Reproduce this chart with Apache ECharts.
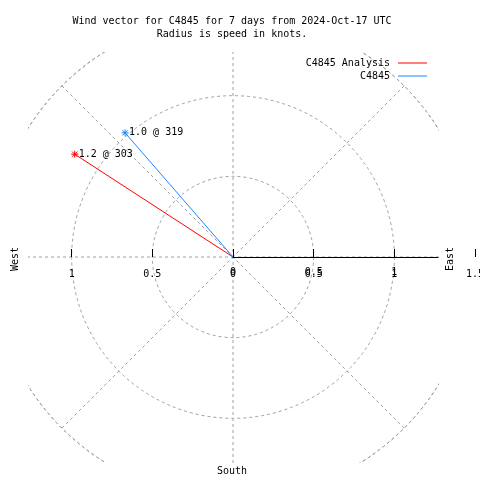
<!DOCTYPE html>
<html>
<head>
<meta charset="utf-8">
<script src="https://cdn.jsdelivr.net/npm/echarts@6/dist/echarts.min.js"></script>
<style>html,body{margin:0;padding:0;background:#fff}#c{width:480px;height:480px}</style>
</head>
<body>
<div id="c"></div>
<script>
// ---- data ----
const seriesNames = ['C4845 Analysis', 'C4845'];
const speeds = [1.17, 1.02];          // knots
const directions = [303, 319];        // degrees (compass)
const radiusTicks = [0, 0.5, 1, 1.5]; // radius axis ticks (knots)
const compassLabels = ['West', 'East', 'South'];

// ---- layout helpers ----
const FONT = 'DejaVu Sans Mono';
const CX = 233, CY = 257;          // polar centre (px)
const RMAX = radiusTicks[radiusTicks.length - 1];
const RPX = 242;                   // px for RMAX
const PXK = RPX / RMAX;            // px per knot
const HALF = 205;                  // half-size of clipped plot square (px)
const HALFK = HALF / PXK;
const colors = ['#ff0000', '#1a86ff'];
const gridStyle = { color: '#a0a0a0', width: 1, type: [3, 3] };
const star = 'path://M0,4L8,4M4,0L4,8M1,1L7,7M1,7L7,1';

const series = seriesNames.map((name, i) => ({
  name: name,
  type: 'line',
  coordinateSystem: 'polar',
  polarIndex: 0,
  z: 3,
  color: colors[i],
  lineStyle: { color: colors[i], width: 1 },
  itemStyle: { color: colors[i], borderColor: colors[i], borderWidth: 1 },
  symbol: star,
  symbolSize: 7,
  data: [
    { value: [0, directions[i]], symbol: 'none' },
    {
      value: [speeds[i], directions[i]],
      label: {
        show: true, position: 'right', distance: 0,
        fontFamily: FONT, fontSize: 10, color: '#000',
        formatter: () => speeds[i].toFixed(1) + ' @ ' + directions[i]
      }
    }
  ]
}));

const labelFont = { fontFamily: FONT, fontSize: 10, color: '#000' };

const option = {
  animation: false,
  backgroundColor: '#fff',
  title: {
    text: 'Wind vector for C4845 for 7 days from 2024-Oct-17 UTC\nRadius is speed in knots.',
    left: 227, top: 10, textAlign: 'center',
    textStyle: { fontFamily: FONT, fontSize: 10, fontWeight: 'normal', color: '#000', lineHeight: 13 }
  },
  legend: {
    data: seriesNames.map(n => ({ name: n, icon: 'rect' })),
    orient: 'vertical', align: 'right',
    right: 53, top: 57, padding: 0, itemGap: 1,
    itemWidth: 29, itemHeight: 1,
    itemStyle: { borderWidth: 0 },
    textStyle: { fontFamily: FONT, fontSize: 10, color: '#000', lineHeight: 12, padding: [0, 3, 0, 0] }
  },
  polar: { center: [CX, CY], radius: RPX },
  angleAxis: {
    type: 'value', min: 0, max: 360, interval: 45, startAngle: 90, clockwise: true,
    axisLine: { show: true, lineStyle: gridStyle },
    axisTick: { show: false }, axisLabel: { show: false },
    splitLine: { show: true, lineStyle: gridStyle }
  },
  radiusAxis: {
    type: 'value', min: 0, max: RMAX, interval: 0.5,
    axisLine: { show: false }, axisTick: { show: false }, axisLabel: { show: false },
    splitLine: { show: true, lineStyle: gridStyle }
  },
  grid: [
    { left: CX, width: HALF, top: CY - 7, height: 7, outerBoundsMode: 'none', containLabel: false },
    { left: CX, width: RPX, top: CY - 7, height: 7, outerBoundsMode: 'none', containLabel: false },
    { left: CX - HALF, width: HALF, top: CY - 7, height: 7, outerBoundsMode: 'none', containLabel: false }
  ],
  xAxis: [
    {
      gridIndex: 0, type: 'value', min: 0, max: HALFK, interval: 0.5, z: 5,
      axisLine: { show: true, lineStyle: { color: '#000', width: 1 } },
      axisTick: { show: false }, splitLine: { show: false },
      axisLabel: Object.assign({ margin: 10, showMaxLabel: false, hideOverlap: false }, labelFont)
    },
    {
      gridIndex: 1, type: 'value', min: 0, max: RMAX, interval: 0.5, offset: 4, z: 5,
      axisLine: { show: false },
      axisTick: { show: true, inside: true, length: 8, lineStyle: { color: '#000', width: 1 } },
      splitLine: { show: false },
      axisLabel: Object.assign({ margin: 8, hideOverlap: false }, labelFont)
    },
    {
      gridIndex: 2, type: 'value', min: 0, max: HALFK, interval: 0.5, inverse: true, offset: 4, z: 5,
      axisLine: { show: false },
      axisTick: { show: true, inside: true, length: 8, lineStyle: { color: '#000', width: 1 } },
      splitLine: { show: false },
      axisLabel: Object.assign({ margin: 8, showMaxLabel: false, hideOverlap: false, formatter: v => v === 0 ? '' : String(v) }, labelFont)
    }
  ],
  yAxis: [0, 1, 2].map(i => ({ gridIndex: i, type: 'value', show: false, min: 0, max: 1 })),
  graphic: [
    // clip the polar grid to the plot square
    { type: 'rect', z: 1, silent: true, shape: { x: 0, y: 0, width: 480, height: CY - HALF }, style: { fill: '#fff' } },
    { type: 'rect', z: 1, silent: true, shape: { x: 0, y: CY + HALF + 1, width: 480, height: 480 }, style: { fill: '#fff' } },
    { type: 'rect', z: 1, silent: true, shape: { x: 0, y: 0, width: CX - HALF, height: 480 }, style: { fill: '#fff' } },
    { type: 'rect', z: 1, silent: true, shape: { x: CX + HALF + 1, y: 0, width: 480, height: 480 }, style: { fill: '#fff' } },
    { type: 'text', z: 10, x: 15, y: CY + 2, rotation: Math.PI / 2,
      style: { text: compassLabels[0], font: '10px ' + FONT, fill: '#000', align: 'center', verticalAlign: 'middle' } },
    { type: 'text', z: 10, x: 450, y: CY + 2, rotation: Math.PI / 2,
      style: { text: compassLabels[1], font: '10px ' + FONT, fill: '#000', align: 'center', verticalAlign: 'middle' } },
    { type: 'text', z: 10, x: 232, y: 471,
      style: { text: compassLabels[2], font: '10px ' + FONT, fill: '#000', align: 'center', verticalAlign: 'middle' } }
  ],
  series: series
};

echarts.init(document.getElementById('c')).setOption(option);
</script>
</body>
</html>
